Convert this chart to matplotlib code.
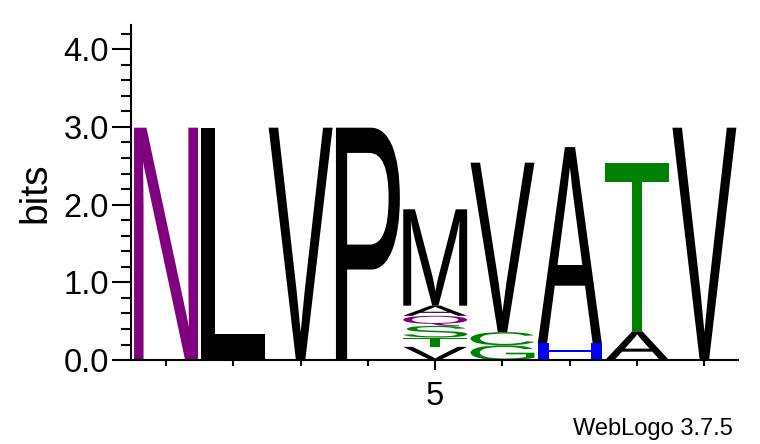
import matplotlib
matplotlib.use("Agg")
import matplotlib.pyplot as plt
from matplotlib.textpath import TextPath
from matplotlib.patches import PathPatch
from matplotlib.font_manager import FontProperties
from matplotlib.transforms import Affine2D

# ---------- data: letters per position, bottom to top ----------
positions = [1, 2, 3, 4, 5, 6, 7, 8, 9]
col_letters = [["N"], ["L"], ["V"], ["P"],
               ["V", "T", "S", "Q", "A", "M"],
               ["G", "C", "V"],
               ["H", "A"],
               ["A", "T"],
               ["V"]]
col_heights = [[2.99], [2.99], [2.99], [2.99],
               [0.17, 0.12, 0.15, 0.13, 0.13, 1.24],
               [0.19, 0.17, 2.18],
               [0.22, 2.52],
               [0.37, 2.16],
               [2.99]]

# chemistry colour scheme
colors = {"N": "#800080", "Q": "#800080",
          "G": "#008000", "S": "#008000", "T": "#008000", "C": "#008000",
          "H": "#0000ff"}

glyph_font = FontProperties(family="Liberation Sans", weight="normal")
letter_width = 0.95

fig = plt.figure(figsize=(7.6, 4.44), dpi=100)
ax = fig.add_axes([0.1724, 0.189, 0.7987, 0.7545])


def draw_letter(ax, ch, x, y0, h, color):
    tp = TextPath((0, 0), ch, size=1, prop=glyph_font)
    bb = tp.get_extents()
    tr = (Affine2D()
          .translate(-bb.x0, -bb.y0)
          .scale(letter_width / bb.width, h / bb.height)
          .translate(x - letter_width / 2, y0))
    path = tr.transform_path(tp)
    ax.add_patch(PathPatch(path, facecolor=color, edgecolor="none", lw=0))


for x, letters, heights in zip(positions, col_letters, col_heights):
    y = 0.0
    for ch, h in zip(letters, heights):
        draw_letter(ax, ch, x, y, h, colors.get(ch, "black"))
        y += h

ax.set_xlim(0.48, 9.5)
ax.set_ylim(0, 4.31)

for s in ["top", "right"]:
    ax.spines[s].set_visible(False)
ax.spines["left"].set_linewidth(1.5)
ax.spines["bottom"].set_linewidth(1.5)

ax.set_yticks([0, 1, 2, 3, 4])
ax.set_yticklabels(["0.0", "1.0", "2.0", "3.0", "4.0"])
ax.set_yticks([0.2 * i for i in range(22) if i % 5], minor=True)
ax.tick_params(axis="y", which="major", length=14, width=1.5, labelsize=23.5, pad=2)
ax.tick_params(axis="y", which="minor", length=7, width=1.5)

ax.set_xticks([5])
ax.set_xticklabels(["5"])
ax.set_xticks([1, 2, 3, 4, 6, 7, 8, 9], minor=True)
ax.tick_params(axis="x", which="major", length=7, width=1.5, labelsize=23.5, pad=8)
ax.tick_params(axis="x", which="minor", length=4.5, width=1.5)

for lab in ax.get_xticklabels() + ax.get_yticklabels():
    lab.set_family("Liberation Sans")

ax.set_ylabel("bits", fontsize=28, family="Liberation Sans")
ax.yaxis.set_label_coords(-0.128, 0.5)

fig.text(0.9645, 0.02, "WebLogo 3.7.5", ha="right", va="baseline",
         fontsize=17, family="Liberation Sans")

fig.savefig("out.png", dpi=100)
